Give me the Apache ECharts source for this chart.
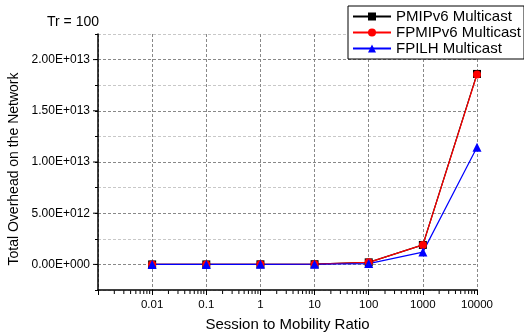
<!DOCTYPE html>
<html>
<head>
<meta charset="utf-8">
<script src="https://cdn.jsdelivr.net/npm/echarts@6/dist/echarts.min.js"></script>
<style>
html,body{margin:0;padding:0;background:#fff;}
#chart{width:524px;height:332px;}
</style>
</head>
<body>
<div id="chart"></div>
<script>
// Data
const ratios = [0.01, 0.1, 1, 10, 100, 1000, 10000];
const pmipv6 = [1e8, 1e9, 1e10, 2e10, 2.0e11, 1.9e12, 1.86e13];
const fpmipv6 = [1e8, 1e9, 1e10, 2e10, 2.0e11, 1.9e12, 1.855e13];
const fpilh = [1e8, 1e9, 1e10, 1.5e10, 8e10, 1.2e12, 1.145e13];
const seriesNames = ['PMIPv6 Multicast', 'FPMIPv6 Multicast', 'FPILH Multicast'];
const yMajorTicks = [0, 5e12, 1e13, 1.5e13, 2e13];
const titleText = 'Tr = 100';

const X_MIN = 0.001, X_MAX = 10000, Y_MIN = -2.5e12, Y_MAX = 2.25e13;

// minor tick values of the log axis (2..9 times each decade)
const minorX = [];
for (let n = -3; n <= 3; n++) {
  for (let k = 2; k <= 9; k++) minorX.push(k * Math.pow(10, n));
}

function pairs(ys) { return ratios.map((x, i) => [x, ys[i]]); }

function fmtE(v) {
  if (v < 0) return '';
  if (Math.round(v / 2.5e12) % 2 !== 0) return '';
  if (v === 0) return '0.00E+000';
  const e = Math.floor(Math.log10(v) + 1e-9);
  const m = v / Math.pow(10, e);
  return m.toFixed(2) + 'E+' + String(e).padStart(3, '0');
}

const FONT = 'Liberation Sans';
const chart = echarts.init(document.getElementById('chart'), null, {renderer: 'canvas'});

chart.setOption({
  animation: false,
  backgroundColor: '#fff',
  textStyle: {fontFamily: FONT},
  title: {
    text: titleText, left: 42, top: 10,
    textStyle: {fontFamily: FONT, fontSize: 14, fontWeight: 'normal', color: '#000'}
  },
  legend: {
    data: seriesNames,
    orient: 'vertical',
    left: 348, top: 6,
    itemWidth: 38, itemHeight: 10, itemGap: 1,
    padding: [3, 3, 3, 4],
    borderColor: '#000', borderWidth: 1,
    backgroundColor: '#fff',
    textStyle: {fontFamily: FONT, fontSize: 15, color: '#000'}
  },
  grid: {left: 98, right: 47, top: 34, bottom: 42, containLabel: false, outerBoundsMode: 'none'},
  xAxis: {
    type: 'log', logBase: 10, min: X_MIN, max: X_MAX, position: 'bottom',
    name: 'Session to Mobility Ratio', nameLocation: 'middle', nameGap: 27,
    nameTextStyle: {fontFamily: FONT, fontSize: 15, color: '#000'},
    axisLine: {onZero: false, lineStyle: {color: '#000', width: 1.5}},
    axisTick: {show: true, inside: false, length: 5, lineStyle: {color: '#000', width: 1}},
    minorTick: {show: false},
    minorSplitLine: {show: false},
    axisLabel: {
      color: '#000', fontFamily: FONT, fontSize: 11.5, margin: 9,
      formatter: v => (v < 0.005 ? '' : String(Number(v.toPrecision(6))))
    },
    splitLine: {show: true, lineStyle: {color: '#888', type: [3, 2], width: 1}}
  },
  yAxis: {
    type: 'value', min: Y_MIN, max: Y_MAX, interval: 2.5e12, position: 'left',
    name: 'Total Overhead on the Network', nameLocation: 'middle', nameGap: 76,
    nameTextStyle: {fontFamily: FONT, fontSize: 14, color: '#000', padding: [0, 14, 0, 0]},
    axisLine: {show: true, onZero: false, lineStyle: {color: '#000', width: 1.5}},
    axisTick: {show: true, inside: false, length: 3, lineStyle: {color: '#000', width: 1}},
    axisLabel: {color: '#000', fontFamily: FONT, fontSize: 12, margin: 8, formatter: fmtE},
    splitLine: {show: true, lineStyle: {color: ['#c8c8c8', '#888'], type: [3, 2], width: 1}}
  },
  series: [{
    name: seriesNames[0], type: 'line', data: pairs(pmipv6),
    symbol: 'rect', symbolSize: 8,
    lineStyle: {color: '#000', width: 1.2}, itemStyle: {color: '#000'}
  }, {
    name: seriesNames[1], type: 'line', data: pairs(fpmipv6),
    symbol: 'circle', symbolSize: 8,
    lineStyle: {color: '#f00', width: 1.2}, itemStyle: {color: '#f00'}
  }, {
    name: seriesNames[2], type: 'line', data: pairs(fpilh),
    symbol: 'triangle', symbolSize: 9,
    lineStyle: {color: '#00f', width: 1.2}, itemStyle: {color: '#00f'}
  }, {
    // minor ticks of the log x axis, placed through the axis scale
    name: 'xMinorTicks', type: 'custom', silent: true, clip: false, z: 5,
    data: minorX.map(v => [v, Y_MIN]),
    encode: {x: 0, y: 1},
    renderItem: (params, api) => {
      const p = api.coord([api.value(0), api.value(1)]);
      return {type: 'line', shape: {x1: p[0], y1: p[1] + 0.5, x2: p[0], y2: p[1] + 4},
              style: {stroke: '#000', lineWidth: 1}};
    }
  }, {
    // longer major ticks of the y axis
    name: 'yMajorTicks', type: 'custom', silent: true, clip: false, z: 5,
    data: yMajorTicks.map(v => [X_MIN, v]),
    encode: {x: 0, y: 1},
    renderItem: (params, api) => {
      const p = api.coord([api.value(0), api.value(1)]);
      return {type: 'line', shape: {x1: p[0] - 5, y1: p[1], x2: p[0], y2: p[1]},
              style: {stroke: '#000', lineWidth: 1}};
    }
  }]
});
</script>
</body>
</html>
